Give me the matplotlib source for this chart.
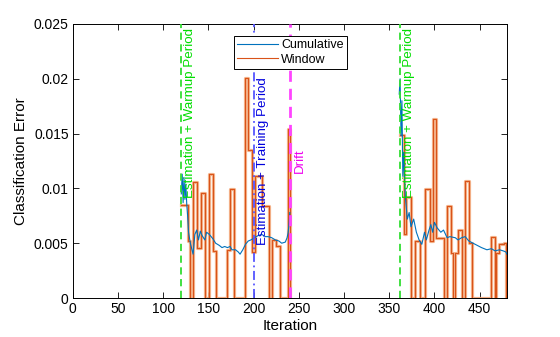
import numpy as np
import matplotlib
matplotlib.use("Agg")
import matplotlib.pyplot as plt

plt.rcParams['font.family'] = ['Liberation Sans', 'DejaVu Sans']

# Window error (step breakpoints), segment 1 and 2
win1_iter = [120, 127, 129.5, 133, 137, 142, 146.5, 151, 155, 158, 170, 173.5, 178.5,
             190, 194, 198, 202, 209, 217, 220, 225, 229, 238, 240]
win1_val = [0.0085, 0.0052, 0, 0.0106, 0.0046, 0.0096, 0, 0.0113, 0.0043, 0, 0.0044, 0.0099, 0,
            0.0201, 0.0135, 0.0042, 0.0111, 0.0084, 0, 0.0053, 0.0047, 0, 0.0154, 0]
win2_iter = [362, 366, 368, 374, 378, 384, 389, 395.5, 398.5, 402, 410, 414, 418, 421, 423, 426,
             430, 434, 438, 442, 462, 466.5, 468, 471, 477, 479.5]
win2_val = [0.0149, 0.0058, 0.0092, 0, 0.0052, 0, 0.0099, 0.0052, 0.0163, 0.0055, 0, 0.0084,
            0.0041, 0, 0.0041, 0.0062, 0, 0.0107, 0.0050, 0, 0.0056, 0, 0.0041, 0.0049, 0.0050, 0]

# Cumulative error
cum1_iter = [120, 121, 122, 123, 124, 125, 126, 127, 128, 130, 133, 135, 137, 139, 141, 143, 146,
             148, 151, 155, 158, 162, 165, 168, 171, 174, 176, 180, 183, 185, 188, 191, 194, 197,
             201, 205, 209, 213, 216, 220, 224, 228, 231, 235, 237, 238, 239, 240]
cum1_val = [0.0095, 0.0113, 0.0087, 0.0110, 0.0090, 0.0104, 0.0086, 0.0075, 0.0060, 0.0050,
            0.0040, 0.0058, 0.0062, 0.0053, 0.0061, 0.0057, 0.0053, 0.0060, 0.0058, 0.0054,
            0.0050, 0.0048, 0.0046, 0.0047, 0.0046, 0.0047, 0.0044, 0.0044, 0.0042, 0.0040,
            0.0044, 0.0049, 0.0052, 0.0053, 0.0055, 0.0057, 0.0058, 0.0056, 0.0056, 0.0055,
            0.0053, 0.0052, 0.0050, 0.0051, 0.0055, 0.0059, 0.0066, 0.0078]
cum2_iter = [361, 362, 363, 364, 365, 366, 367, 368, 370, 372, 374, 377, 380, 383, 386, 389, 391,
             394, 396, 398, 400, 403, 407, 410, 414, 417, 423, 426, 430, 434, 438, 445, 452, 458,
             463, 467, 472, 476, 479, 480]
cum2_val = [0.0186, 0.0200, 0.0148, 0.0180, 0.0111, 0.0133, 0.0107, 0.0090, 0.0072, 0.0078,
            0.0065, 0.0072, 0.0060, 0.0053, 0.0049, 0.0060, 0.0053, 0.0062, 0.0067, 0.0060,
            0.0069, 0.0064, 0.0060, 0.0062, 0.0055, 0.0056, 0.0055, 0.0053, 0.0055, 0.0056,
            0.0052, 0.0049, 0.0046, 0.0044, 0.0045, 0.0043, 0.0044, 0.0043, 0.0042, 0.0040]

warmup_lines = [120, 362]
training_line = 200
drift_line = 240

fig = plt.figure(figsize=(5.6, 3.37), dpi=100)
ax = fig.add_axes([0.130, 0.1157, 0.775, 0.8131])

blue = '#0072BD'
orange = '#D95319'

cum_x = cum1_iter + [np.nan] + cum2_iter
cum_y = cum1_val + [np.nan] + cum2_val
ax.plot(cum_x, cum_y, color=blue, lw=0.8, label='Cumulative', zorder=3)

for wi, wv in ((win1_iter, win1_val), (win2_iter, win2_val)):
    ax.plot(wi, wv, drawstyle='steps-post', color='#F3AC80', lw=2.3, alpha=0.9,
            zorder=2)
    ax.plot(wi, wv, drawstyle='steps-post', color=orange, lw=0.8, zorder=2.5,
            label='Window' if wi is win1_iter else None)

for xl in warmup_lines:
    ax.axvline(xl, color='#33DD33', lw=1.3, ls=(0, (4, 2.5)), zorder=4)
    ax.text(xl + 3.5, 0.02465, 'Estimation + Warmup Period', rotation=90, color='#00DD00',
            ha='left', va='top', fontsize=9.6, zorder=5)
ax.axvline(training_line, color='#5555FF', lw=1.3, ls=(0, (5, 2, 1, 2)), zorder=4)
ax.text(training_line + 3.5, 0.0048, 'Estimation + Training Period', rotation=90,
        color='#0000DD', ha='left', va='bottom', fontsize=9.6, zorder=5)
ax.axvline(drift_line, color='#FF44FF', lw=2.0, ls=(0, (4, 2.5)), zorder=4)
ax.text(drift_line + 4.5, 0.01255, 'Drift', rotation=90, color='#EE00EE',
        ha='left', va='center', fontsize=9.6, zorder=5)

ax.set_xlim(0, 480)
ax.set_ylim(0, 0.025)
ax.set_xticks(np.arange(0, 451, 50))
ax.set_yticks([0, 0.005, 0.01, 0.015, 0.02, 0.025])
ax.set_yticklabels(['0', '0.005', '0.01', '0.015', '0.02', '0.025'])
ax.tick_params(direction='in', length=4, width=0.6, top=True, right=True, labelsize=10,
               pad=3)
for s in ax.spines.values():
    s.set_linewidth(0.7)
ax.set_xlabel('Iteration', fontsize=11, labelpad=2)
ax.set_ylabel('Classification Error', fontsize=11, labelpad=4)

leg = ax.legend(loc='upper left', bbox_to_anchor=(0.371, 0.956), fontsize=9,
                frameon=True, fancybox=False, edgecolor='black', framealpha=1,
                handlelength=3.3, handletextpad=0.25, borderpad=0.25, labelspacing=0.2,
                borderaxespad=0)
leg.get_frame().set_linewidth(0.7)
leg.set_zorder(6)

fig.savefig('out.png', dpi=100, facecolor='white')
